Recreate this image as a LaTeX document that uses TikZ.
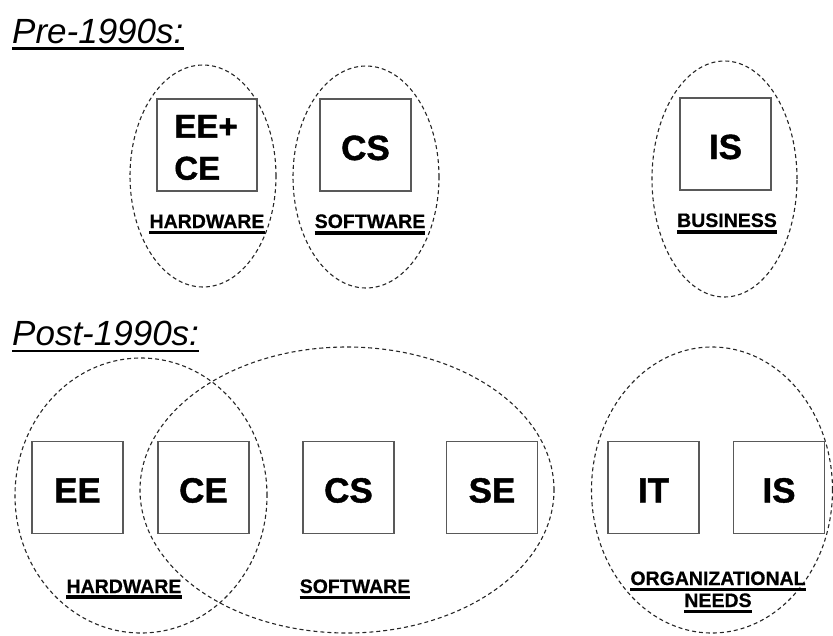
\documentclass[tikz,border=0pt]{standalone}
\usepackage{fontspec}
\setmainfont{Liberation Sans}
\newfontface\heavyface{Liberation Sans Bold}[FakeBold=1.2]
\newfontface\labelface{Liberation Sans Bold}[FakeBold=0.5]
\begin{document}
\begin{tikzpicture}[x=1pt,y=-1pt,
  area/.style={draw=black!85, line width=1.1pt, dash pattern=on 4pt off 3pt},
  tile/.style={draw=black!65, line width=1.1pt, minimum width=91pt, minimum height=92pt, inner sep=0pt, font=\heavyface\fontsize{35}{40}\selectfont, text height=30pt, text depth=0pt},
  tiletext/.style={inner sep=0pt, font=\heavyface\fontsize{33}{42}\selectfont, align=left},
  lbl/.style={inner sep=0pt, font=\labelface\fontsize{19.5}{22}\selectfont, anchor=base},
  ttl/.style={inner sep=0pt, font=\fontsize{35}{40}\selectfont\itshape, anchor=base west},
  ulline/.style={line width=3.5pt}]
\useasboundingbox (0,0) rectangle (833,635);
% titles
\node[ttl] (pre) at (12,43) {Pre-1990s:};
\draw[line width=3pt] ([yshift=-5pt]pre.south west) -- ([yshift=-5pt]pre.south east);
\node[ttl] (post) at (12,345) {Post-1990s:};
\draw[line width=2pt] ([yshift=-5pt]post.south west) -- ([yshift=-5pt]post.south east);
% pre-1990s
\draw[area] (203,176) ellipse [x radius=73pt, y radius=111pt];
\draw[area] (366,177) ellipse [x radius=73pt, y radius=111pt];
\draw[area] (724.5,179) ellipse [x radius=72.5pt, y radius=118pt];
\node[tile, minimum width=100pt] (eece) at (207,145) {};
\node[tiletext] (eecet) at (206,147.5) {EE+\\CE};
\node[tile] (cs1) at (365.5,145) {CS};
\node[tile] (is1) at (725.5,144) {IS};
\node[lbl] (hw1) at (207,228) {HARDWARE};
\node[lbl] (sw1) at (370,228) {SOFTWARE};
\node[lbl] (bus) at (727,227) {BUSINESS};
\foreach \n in {hw1,sw1,bus}
  \draw[ulline] ([yshift=-4.5pt]\n.south west) -- ([yshift=-4.5pt]\n.south east);
% post-1990s
\draw[area] (141,495.5) ellipse [x radius=126pt, y radius=137.5pt];
\draw[area] (347,490) ellipse [x radius=207pt, y radius=143pt];
\draw[area] (712,490) ellipse [x radius=120.5pt, y radius=143pt];
\node[tile] (ee) at (77.5,487.5) {EE};
\node[tile] (ce) at (203.5,487.5) {CE};
\node[tile] (cs2) at (348.5,487.5) {CS};
\node[tile] (se) at (492,487.5) {SE};
\node[tile] (it) at (653.5,487.5) {IT};
\node[tile] (is2) at (779,487.5) {IS};
\node[lbl] (hw2) at (124,593) {HARDWARE};
\node[lbl] (sw2) at (355,593) {SOFTWARE};
\node[lbl] (org) at (718,585) {ORGANIZATIONAL};
\node[lbl] (needs) at (718,607) {NEEDS};
\foreach \n in {hw2,sw2,org,needs}
  \draw[ulline] ([yshift=-4pt]\n.south west) -- ([yshift=-4pt]\n.south east);
\end{tikzpicture}
\end{document}
